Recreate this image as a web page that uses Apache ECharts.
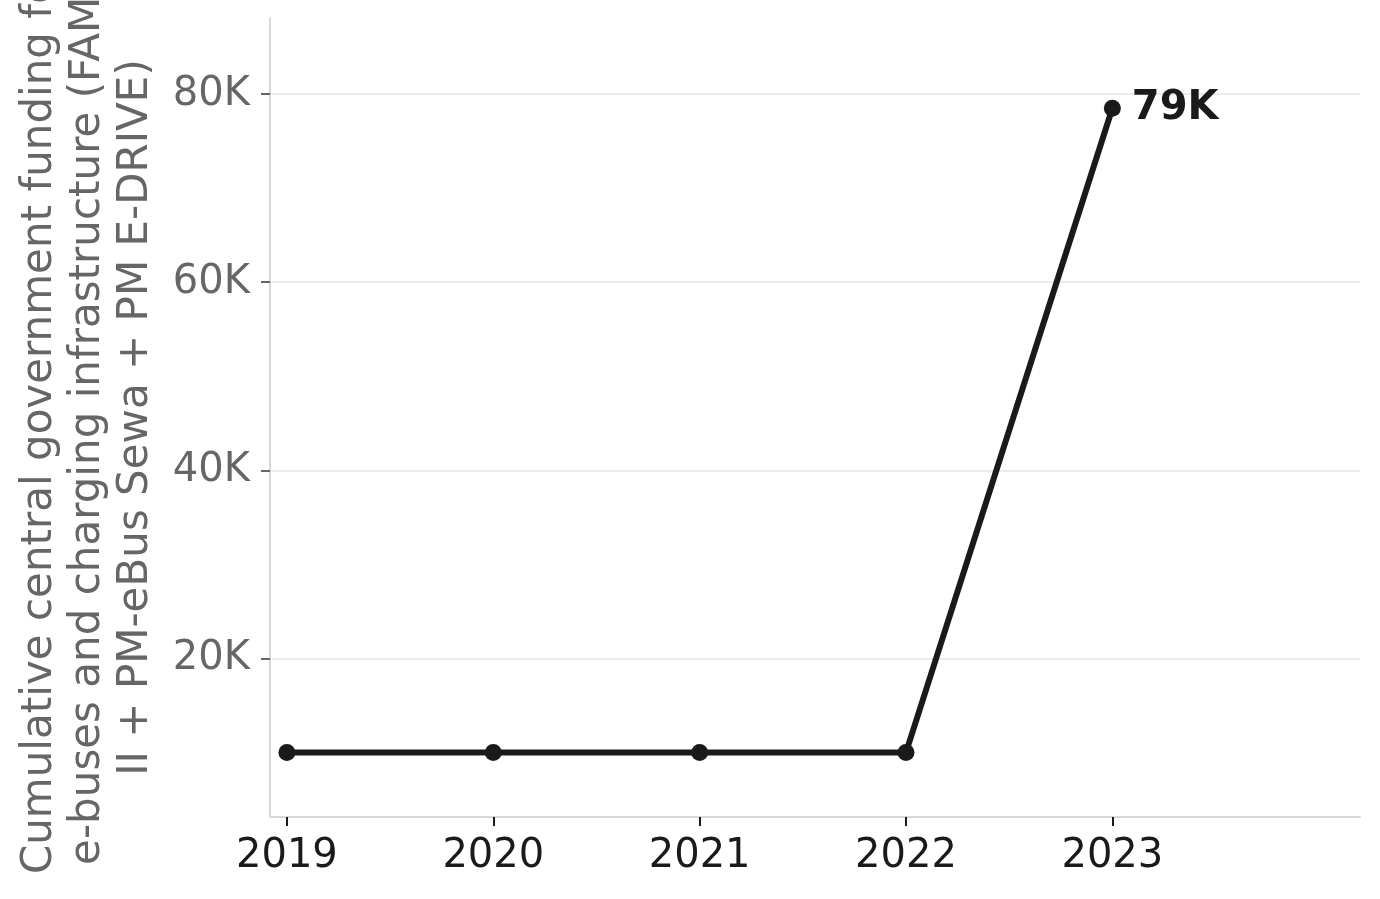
<!DOCTYPE html>
<html>
<head>
<meta charset="utf-8">
<script src="https://cdn.jsdelivr.net/npm/echarts@6/dist/echarts.min.js"></script>
<style>
html, body { margin: 0; padding: 0; background: #fff; }
#main { width: 1380px; height: 899px; }
</style>
</head>
<body>
<div id="main"></div>
<script>
// data
var years = [2019, 2020, 2021, 2022, 2023];
var funding = [10000, 10000, 10000, 10000, 78500];
var yTicks = [20000, 40000, 60000, 80000];
var yName = 'Cumulative central government funding for\ne-buses and charging infrastructure (FAME\nII + PM-eBus Sewa + PM E-DRIVE)';

var chartDom = document.getElementById('main');
var myChart = echarts.init(chartDom);

// points, only the last one gets a label
var points = years.map(function (y, i) {
    var item = { value: [y, funding[i]] };
    if (i === years.length - 1) {
        item.label = { show: true };
    }
    return item;
});

var option = {
    animation: false,
    backgroundColor: '#fff',
    textStyle: { fontFamily: 'DejaVu Sans' },
    grid: { left: 270, right: 20, top: 18, bottom: 82, containLabel: false, outerBoundsMode: 'none' },
    xAxis: {
        type: 'value',
        min: 2018.918,
        max: 2024.2,
        axisLine: { show: true, lineStyle: { color: '#d9d9d9', width: 2 } },
        axisTick: { show: true, customValues: years, length: 9, lineStyle: { color: '#1a1a1a', width: 2 } },
        axisLabel: {
            customValues: years,
            color: '#1a1a1a',
            fontSize: 40,
            margin: 20,
            formatter: function (v) { return String(v); }
        },
        splitLine: { show: false }
    },
    yAxis: {
        type: 'value',
        min: 3130,
        max: 88100,
        name: yName,
        nameLocation: 'middle',
        nameRotate: 90,
        nameGap: 110,
        nameTextStyle: { color: '#666666', fontSize: 42, lineHeight: 48, align: 'center' },
        axisLine: { show: true, lineStyle: { color: '#d9d9d9', width: 2 } },
        axisTick: { show: true, customValues: yTicks, length: 9, lineStyle: { color: '#666666', width: 2 } },
        axisLabel: {
            customValues: yTicks,
            color: '#666666',
            fontSize: 40,
            margin: 20,
            formatter: function (v) { return (v / 1000) + 'K'; }
        },
        splitLine: { show: true, lineStyle: { color: '#ebebeb', width: 2 } }
    },
    series: [
        {
            type: 'line',
            data: points,
            symbol: 'circle',
            symbolSize: 17,
            lineStyle: { color: '#1a1a1a', width: 6 },
            itemStyle: { color: '#1a1a1a' },
            label: {
                show: false,
                position: 'right',
                distance: 11,
                color: '#1a1a1a',
                fontSize: 40,
                fontWeight: 'bold',
                formatter: function (p) { return Math.round(p.value[1] / 1000) + 'K'; }
            }
        }
    ]
};

myChart.setOption(option);
</script>
</body>
</html>
